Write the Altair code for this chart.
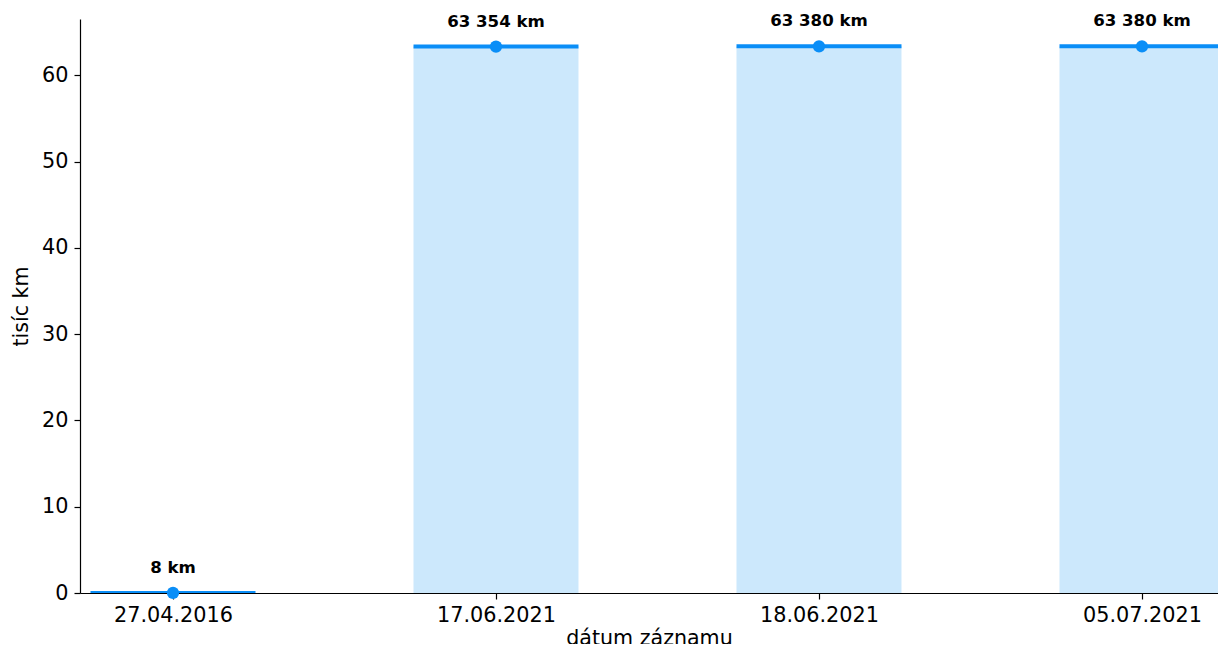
import altair as alt
import pandas as pd
import json

dates = ["27.04.2016", "17.06.2021", "18.06.2021", "05.07.2021"]
km_values = [8, 63354, 63380, 63380]
y_ticks = [0, 10, 20, 30, 40, 50, 60]

half_w = 0.2554
df = pd.DataFrame({
    "date": dates,
    "idx": list(range(len(dates))),
    "km": km_values,
})
df["val"] = df["km"] / 1000.0
df["x0"] = df["idx"] - half_w
df["x1"] = df["idx"] + half_w
df["label"] = [f"{k:,}".replace(",", " ") + " km" for k in km_values]

FILL = "#cce8fc"
LINE = "#0a8ef7"

x_scale = alt.Scale(domain=[-0.2879, 3.2353], nice=False, zero=False)
y_scale = alt.Scale(domain=[0, 66.55], nice=False)

label_expr = json.dumps(dates) + "[datum.value]"

x_axis = alt.Axis(values=list(range(len(dates))), labelExpr=label_expr,
                  title="dátum záznamu", grid=False,
                  titleBaseline="alphabetic", titleY=51)
y_axis = alt.Axis(values=y_ticks, title="tisíc km", grid=False)

base = alt.Chart(df)

bars = base.mark_rect(color=FILL, clip=True).encode(
    x=alt.X("x0:Q", scale=x_scale, axis=x_axis),
    x2="x1:Q",
    y=alt.Y("val:Q", scale=y_scale, axis=y_axis),
    y2=alt.datum(0),
)

rules = base.mark_rule(color=LINE, strokeWidth=4, clip=True).encode(
    x=alt.X("x0:Q", scale=x_scale),
    x2="x1:Q",
    y=alt.Y("val:Q", scale=y_scale),
)

points = base.mark_circle(color=LINE, size=150, opacity=1).encode(
    x=alt.X("idx:Q", scale=x_scale),
    y=alt.Y("val:Q", scale=y_scale),
)

texts = base.mark_text(dy=-25, fontWeight="bold", fontSize=16.6,
                       font="DejaVu Sans", color="black").encode(
    x=alt.X("idx:Q", scale=x_scale),
    y=alt.Y("val:Q", scale=y_scale),
    text="label:N",
)

chart = alt.layer(bars, rules, points, texts).properties(
    width=1138, height=574,
    autosize=alt.AutoSizeParams(type="none"),
    padding={"left": 72, "top": 11, "right": 0, "bottom": 51},
).configure_view(stroke=None).configure_axis(
    labelFont="DejaVu Sans", titleFont="DejaVu Sans",
    labelFontSize=20.8, titleFontSize=20.6, titleFontWeight="normal",
    labelColor="black", titleColor="black",
    domainColor="black", tickColor="black", domainWidth=1.2, tickWidth=1.2,
    tickSize=6, labelPadding=6,
).configure_axisY(titlePadding=10)

chart.save("out.html", embed_options={"renderer": "svg", "actions": False})
